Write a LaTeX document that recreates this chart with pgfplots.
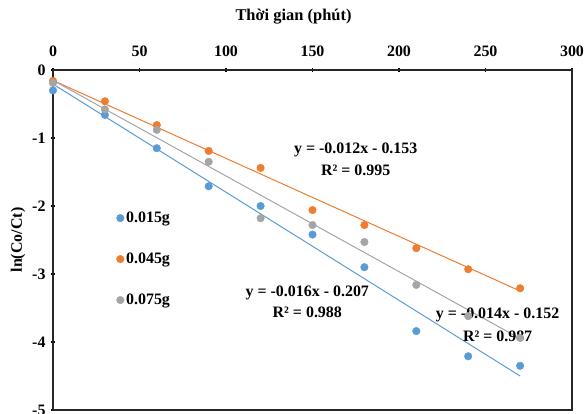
\documentclass[border=0pt]{standalone}
\usepackage{pgfplots}
\pgfplotsset{compat=1.18}
\usepackage{fontspec}
\setmainfont{Liberation Serif}
\usetikzlibrary{calc}
\definecolor{cblue}{RGB}{91,155,213}
\definecolor{corange}{RGB}{237,125,49}
\definecolor{cgray}{RGB}{165,165,165}
\newcommand{\fnt}{\fontsize{16}{19}\selectfont\bfseries}
\begin{document}
\fnt
\begin{tikzpicture}
\begin{axis}[
  scale only axis, width=519bp, height=340bp,
  xmin=0, xmax=300, ymin=-5, ymax=0,
  xtick={0,50,...,300}, ytick={-5,-4,...,0},
  xticklabel pos=top, xtick pos=top, ytick pos=left,
  tick align=center, major tick length=4bp,
  /pgf/number format/assume math mode=true,
  ticklabel style={font=\fnt},
  xticklabel style={yshift=6bp},
  xlabel={Thời gian (phút)}, ylabel={ln(Co/Ct)},
  label style={font=\fnt},
  xlabel style={font=\fontsize{16.5}{19}\selectfont\bfseries, yshift=11bp, xshift=-19bp},
  ylabel style={yshift=-4bp},
  axis line style={line width=1.3bp, black!85},
  tick style={line width=1.2bp, black},
  clip=false,
  legend style={draw=none, fill=none, at={(0.122,0.59)}, anchor=north west,
    row sep=24bp, font=\fnt,
    legend cell align=left, inner sep=0pt},
  legend image code/.code={\draw[#1] plot coordinates {(0.05cm,0cm)};},
]
\addplot[cblue, line width=1pt, forget plot] coordinates {(0,-0.207) (270,-4.50)};
\addplot[corange, line width=1pt, forget plot] coordinates {(0,-0.153) (270,-3.25)};
\addplot[cgray, line width=1pt, forget plot] coordinates {(0,-0.152) (270,-3.95)};
\addplot[only marks, mark=*, mark size=3.8bp, cblue, mark options={draw=cblue, fill=cblue}] coordinates {
(0,-0.30) (30,-0.66) (60,-1.15) (90,-1.71) (120,-2.00) (150,-2.42) (180,-2.90) (210,-3.84) (240,-4.21) (270,-4.35)};
\addlegendentry{0.015g}
\addplot[only marks, mark=*, mark size=3.8bp, corange, mark options={draw=corange, fill=corange}] coordinates {
(0,-0.16) (30,-0.46) (60,-0.81) (90,-1.19) (120,-1.44) (150,-2.06) (180,-2.28) (210,-2.62) (240,-2.93) (270,-3.21)};
\addlegendentry{0.045g}
\addplot[only marks, mark=*, mark size=3.8bp, cgray, mark options={draw=cgray, fill=cgray}] coordinates {
(0,-0.19) (30,-0.58) (60,-0.88) (90,-1.35) (120,-2.18) (150,-2.28) (180,-2.53) (210,-3.16) (240,-3.62) (270,-3.94)};
\addlegendentry{0.075g}
\node[font=\fnt] at (axis cs:175,-1.18) {y = -0.012x - 0.153};
\node[font=\fnt] at (axis cs:175,-1.47) {R² = 0.995};
\node[font=\fnt] at (axis cs:147,-3.28) {y = -0.016x - 0.207};
\node[font=\fnt] at (axis cs:147,-3.57) {R² = 0.988};
\node[font=\fnt] at (axis cs:257,-3.60) {y = -0.014x - 0.152};
\node[font=\fnt] at (axis cs:257,-3.92) {R² = 0.987};
\coordinate (bl) at (rel axis cs:0,0);
\coordinate (tr) at (rel axis cs:1,1);
\end{axis}
\pgfresetboundingbox
\path ($(bl)+(-53bp,-4bp)$) rectangle ($(tr)+(13bp,70bp)$);
\end{tikzpicture}
\end{document}
